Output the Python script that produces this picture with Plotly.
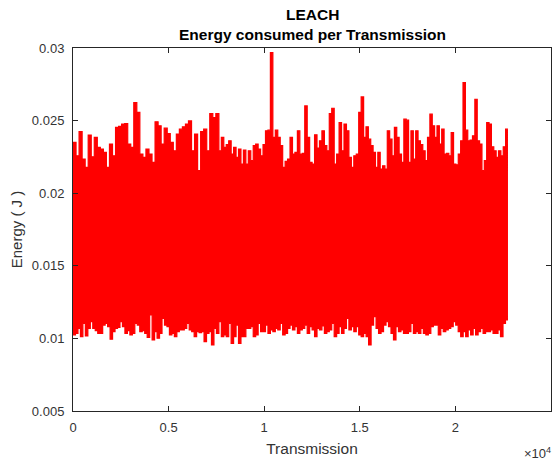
import numpy as np
import plotly.graph_objects as go

# Envelope of the energy-per-transmission series (J)
# Upper envelope (peaks), in three consecutive transmission ranges
top_1 = [0.0235, 0.02258, 0.02425, 0.02235, 0.02178, 0.0240, 0.02251, 0.02384, 0.02315, 0.02304,
         0.02281, 0.02178, 0.02338, 0.02258, 0.02453, 0.0246, 0.02476, 0.0248, 0.02338, 0.02315,
         0.02624, 0.02556, 0.0227, 0.02247, 0.02304, 0.0227, 0.02212, 0.02492, 0.02464, 0.02338,
         0.02448, 0.02411, 0.0235, 0.02292, 0.02407, 0.02441, 0.02457, 0.02476, 0.02498, 0.02292,
         0.02407, 0.02155, 0.02425, 0.02441, 0.02292, 0.02549, 0.02521, 0.02549]
top_2 = [0.02292, 0.02384, 0.02315, 0.02334, 0.02361, 0.0227, 0.02315, 0.02247, 0.02304, 0.02201,
         0.02297, 0.02201, 0.02292, 0.02224, 0.02327, 0.02338, 0.02304, 0.02258, 0.02334, 0.0243,
         0.02434, 0.02968, 0.02384, 0.02434, 0.02384, 0.02327, 0.02178, 0.02219, 0.02235, 0.02384,
         0.0227, 0.02281, 0.0243, 0.0227, 0.02274, 0.02601, 0.02384, 0.02212, 0.02201, 0.02402,
         0.02311, 0.02361, 0.0243, 0.02327, 0.02292, 0.02549, 0.02585, 0.02201, 0.0227, 0.02487,
         0.02292, 0.02476, 0.0243, 0.02247, 0.02178, 0.02258, 0.0227, 0.02556, 0.02663]
top_3 = [0.02384, 0.02457, 0.02372, 0.02327, 0.02281, 0.02178, 0.02281, 0.02166, 0.02189, 0.02166,
         0.0243, 0.02372, 0.02258, 0.02453, 0.02384, 0.0227, 0.02212, 0.0251, 0.02503, 0.02212,
         0.0243, 0.02235, 0.0243, 0.02361, 0.02334, 0.02292, 0.02224, 0.02384, 0.02544, 0.02464,
         0.02384, 0.02464, 0.02338, 0.02441, 0.0227, 0.02274, 0.02258, 0.02418, 0.02201, 0.02196,
         0.0227, 0.02361, 0.02762, 0.02434, 0.02361, 0.02366, 0.02395, 0.02647, 0.02361, 0.02338,
         0.02155, 0.02224, 0.02487, 0.02476, 0.0232, 0.02292, 0.02247, 0.02292, 0.02258, 0.0232,
         0.02441]

# Lower envelope (troughs), same three ranges
bot_1 = [0.01024, 0.01035, 0.01069, 0.01012, 0.01104, 0.01017, 0.01069, 0.01115, 0.01069, 0.01053,
         0.01035, 0.01035, 0.01092, 0.01104, 0.01081, 0.00994, 0.01046, 0.01069, 0.01076, 0.01115,
         0.01081, 0.01035, 0.01053, 0.01024, 0.01035, 0.01104, 0.01092, 0.01046, 0.01053, 0.01035,
         0.01007, 0.01161, 0.00989, 0.01046, 0.01001, 0.01035, 0.01138, 0.01092, 0.01081, 0.01024,
         0.01035, 0.01012, 0.01046, 0.01058, 0.01058, 0.01069, 0.01104, 0.01058, 0.01046, 0.01012,
         0.01046, 0.0104, 0.01046, 0.00978, 0.01035, 0.01046, 0.00955, 0.01069, 0.01035]
bot_2 = [0.01115, 0.01012, 0.01024, 0.01012, 0.01104, 0.00966, 0.01012, 0.01092, 0.00966, 0.01012,
         0.01012, 0.01069, 0.01069, 0.01081, 0.01012, 0.01024, 0.01104, 0.01046, 0.01046, 0.01092,
         0.01035, 0.01058, 0.01046, 0.01069, 0.01058, 0.01104, 0.01024, 0.01035, 0.01069, 0.01092,
         0.01058, 0.01081, 0.01035, 0.01058, 0.01069, 0.01092, 0.01035, 0.01081, 0.01058, 0.01012,
         0.01069, 0.01058, 0.01086, 0.01035, 0.01046, 0.01058, 0.01104, 0.01012, 0.01035, 0.01081,
         0.01035, 0.01069, 0.01138, 0.01058, 0.01081, 0.01046, 0.01081, 0.01024, 0.01012]
bot_3 = [0.01035, 0.01012, 0.00955, 0.01092, 0.0115, 0.01069, 0.01035, 0.01046, 0.01092, 0.01115,
         0.01081, 0.01035, 0.00989, 0.01081, 0.01046, 0.01058, 0.01035, 0.01035, 0.01046, 0.01104,
         0.01035, 0.01046, 0.01035, 0.01069, 0.01035, 0.01024, 0.01035, 0.01081, 0.01092, 0.01092,
         0.01024, 0.01069, 0.01046, 0.01058, 0.01069, 0.01081, 0.01115, 0.01092, 0.01046, 0.01012,
         0.01046, 0.01012, 0.01058, 0.01024, 0.01069, 0.01024, 0.01046, 0.01069, 0.01035, 0.01046,
         0.01046, 0.01058, 0.01035, 0.01035, 0.01058, 0.01012, 0.01104, 0.01127]

# Transmission ranges covered by each third of the readings
range_edges = [0, 7630, 15200, 22750]

x_tick_vals = [0, 5000, 10000, 15000, 20000, 25000]
x_tick_text = ["0", "0.5", "1", "1.5", "2", "2.5"]
y_tick_vals = [0.005, 0.01, 0.015, 0.02, 0.025, 0.03]
y_tick_text = ["0.005", "0.01", "0.015", "0.02", "0.025", "0.03"]

title_lines = ["LEACH", "Energy consumed per Transmission"]


def spread(parts, edges):
    xs, ys = [], []
    for i, p in enumerate(parts):
        n = len(p)
        step = (edges[i + 1] - edges[i]) / n
        xs.extend(edges[i] + step * np.arange(n))
        ys.extend(p)
    xs.append(edges[-1])
    ys.append(parts[-1][-1])
    return xs, ys


xt, yt = spread([top_1, top_2, top_3], range_edges)
xb, yb = spread([bot_1, bot_2, bot_3], range_edges)

RED = "#ff0000"
AX = "#262626"
TXT = "#333333"
FONT = "Liberation Sans, Arial, Helvetica, sans-serif"

fig = go.Figure()
fig.add_trace(go.Scatter(x=xt, y=yt, mode="lines", line=dict(color=RED, width=1.2, shape="hv"),
                         hoverinfo="skip", showlegend=False))
fig.add_trace(go.Scatter(x=xb, y=yb, mode="lines", line=dict(color=RED, width=1.2, shape="hv"),
                         fill="tonexty", fillcolor=RED, hoverinfo="skip", showlegend=False))

axis_common = dict(showline=True, linecolor=AX, linewidth=1, mirror="ticks", ticks="inside",
                   ticklen=5, tickcolor=AX, tickwidth=1, showgrid=False, zeroline=False,
                   automargin=False,
                   tickfont=dict(family=FONT, size=13, color=TXT))

fig.update_xaxes(range=[0, 25000], tickvals=x_tick_vals, ticktext=x_tick_text,
                 title=dict(text="Transmission", font=dict(family=FONT, size=15.5, color=TXT),
                            standoff=9),
                 ticklabelstandoff=4, **axis_common)
fig.update_yaxes(range=[0.005, 0.03], tickvals=y_tick_vals, ticktext=y_tick_text,
                 title=dict(text="Energy ( J )", font=dict(family=FONT, size=15, color=TXT),
                            standoff=8),
                 ticklabelstandoff=5, **axis_common)

annotations = [
    dict(text="<b>%s</b>" % title_lines[0], xref="paper", yref="paper", x=0.5, y=1,
         xanchor="center", yanchor="middle", yshift=34, showarrow=False,
         font=dict(family=FONT, size=15.5, color="#000000")),
    dict(text="<b>%s</b>" % title_lines[1], xref="paper", yref="paper", x=0.5, y=1,
         xanchor="center", yanchor="middle", yshift=14, showarrow=False,
         font=dict(family=FONT, size=15.5, color="#000000")),
    dict(text="×10<sup>4</sup>", xref="paper", yref="paper", x=1.0, y=0,
         xanchor="right", yanchor="middle", yshift=-42, xshift=2, showarrow=False,
         font=dict(family=FONT, size=13, color=TXT)),
]

# The page body has an 8px margin, so the figure is sized and offset to land
# the plot area where the reference has it in the 560x465 window.
fig.update_layout(
    width=552, height=457,
    margin=dict(l=65, r=9, t=40, b=54, autoexpand=False),
    paper_bgcolor="white", plot_bgcolor="white",
    font=dict(family=FONT),
    annotations=annotations,
)

fig.write_html("out.html")
